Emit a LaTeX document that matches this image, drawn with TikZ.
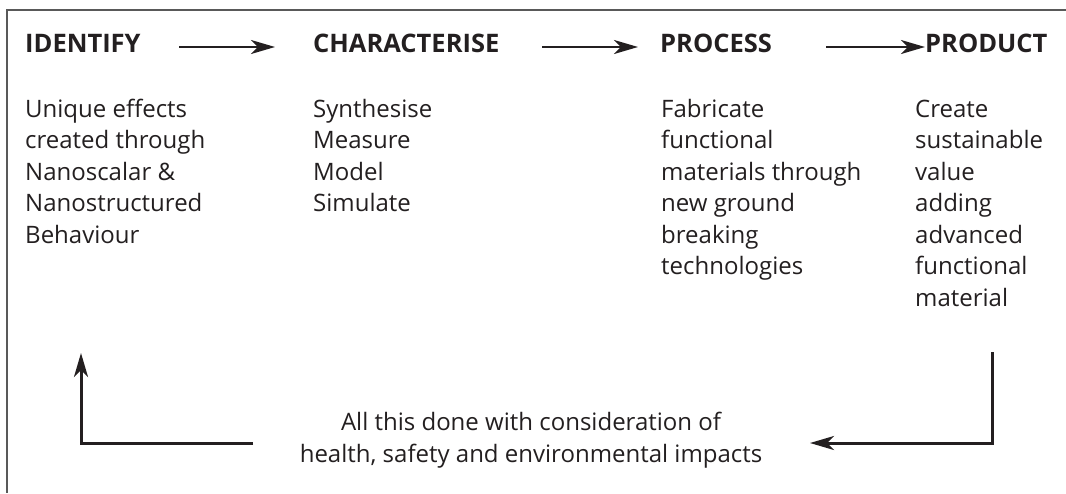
\documentclass[tikz,border=0pt]{standalone}
\usepackage{fontspec}
\setmainfont{Open Sans}
\usetikzlibrary{positioning,arrows.meta}
\definecolor{ink}{HTML}{231F20}
\tikzstyle{head} = [font=\fontsize{25.5}{31.5}\selectfont\bfseries, text=ink, anchor=base west, inner sep=0pt]
\tikzstyle{body} = [font=\fontsize{24}{31.5}\selectfont, text=ink, align=left, anchor=base west, inner sep=0pt]
\tikzstyle{to} = [-{Stealth[length=24pt,width=14pt,inset=7pt]}, line width=2.6pt, draw=ink]
\tikzstyle{back} = [to, line width=3pt]
\tikzstyle{frame} = [draw=black!65, line width=2pt]

\begin{document}
\begin{tikzpicture}[x=1pt, y=-1pt]
	\useasboundingbox (0,0) rectangle (1066,493);
	\draw [frame] (1066,10) -- (7,10) -- (7,493);
	%
	\node (identify) [head] at (25,52) {IDENTIFY};
	\node (characterise) [head] at (313,52) {CHARACTERISE};
	\node (process) [head] at (660,52) {PROCESS};
	\node (product) [head] at (925,52) {PRODUCT};
	%
	% base anchor sits on the last line
	\node (idtext) [body] at (25,243) {Unique effects\\created through\\Nanoscalar \&\\Nanostructured\\Behaviour};
	\node (chtext) [body] at (313,211.5) {Synthesise\\Measure\\Model\\Simulate};
	\node (prtext) [body] at (661,274.5) {Fabricate\\functional\\materials through\\new ground\\breaking\\technologies};
	\node (pdtext) [body] at (915,306) {Create\\sustainable\\value\\adding\\advanced\\functional\\material};
	%
	\node (note) [body, align=center, anchor=base] at (531,462) {All this done with consideration of\\health, safety and environmental impacts};
	%
	\coordinate (a1s) at (179,47);
	\coordinate (a1e) at (275,47);
	\coordinate (a2s) at (542,47);
	\coordinate (a2e) at (638,47);
	\coordinate (a3s) at (826,47);
	\draw [to] (a1s) -- (a1e);
	\draw [to] (a2s) -- (a2e);
	\draw [to] (a3s) -- (product.west |- a3s);
	%
	\coordinate (l1) at (253,443);
	\coordinate (l2) at (81,353);
	\coordinate (r1) at (992,352);
	\coordinate (r2) at (810,443);
	\draw [back] (l1) -| (l2);
	\draw [back] (r1) |- (r2);
\end{tikzpicture}
\end{document}
